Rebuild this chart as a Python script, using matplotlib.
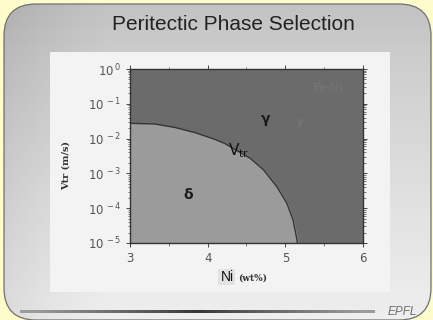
import numpy as np
import matplotlib.pyplot as plt
from matplotlib.patches import FancyBboxPatch, Rectangle

# boundary between delta and gamma regions (Ni wt%, log10 Vtr)
ni_curve = [3.0, 3.32, 3.58, 3.84, 4.09, 4.22, 4.55, 4.72, 4.89, 5.02, 5.10, 5.15, 5.155]
logv_curve = [-1.56, -1.58, -1.68, -1.83, -2.02, -2.14, -2.57, -2.90, -3.38, -3.86,
              -4.34, -4.91, -5.0]

x_ticks = [3, 4, 5, 6]
y_decades = [0, -1, -2, -3, -4, -5]

title = "Peritectic Phase Selection"

W, H = 433, 320
fig = plt.figure(figsize=(W / 100, H / 100), dpi=100)
fig.patch.set_facecolor("#fffccc")

# slide background
bg = fig.add_axes([0, 0, 1, 1])
bg.set_xlim(0, W)
bg.set_ylim(H, 0)
bg.axis("off")

panel = FancyBboxPatch((4, 4), 427, 316, boxstyle="round,pad=0,rounding_size=32",
                       facecolor="none", edgecolor="#707070", lw=0.9, zorder=3)
bg.add_patch(panel)
grad = np.linspace(0, 1, 256).reshape(-1, 1)
img = bg.imshow(grad, extent=(4, 431, 320, 4), cmap="Greys_r",
                vmin=-2.2, vmax=1.6, aspect="auto", zorder=1)
img.set_clip_path(panel)
hgrad = np.linspace(0, 1, 256).reshape(1, -1)
side = bg.imshow(np.clip(hgrad * 4, 0, 1), extent=(4, 431, 320, 4), cmap="Greys_r",
                 vmin=-1.5, vmax=1.0, alpha=0.25, aspect="auto", zorder=1.5)
side.set_clip_path(panel)

bg.add_patch(Rectangle((50, 52), 340, 240, facecolor="#f3f3f3", edgecolor="none", zorder=2))

bg.text(W / 2 + 17, 24, title, ha="center", va="center", fontsize=15,
        color="#222222", family="Liberation Sans", zorder=4)

# bottom rule and logo
rule = 1 - np.clip(1 - np.abs(np.linspace(-1, 1, 256)) * 1.1, 0, 1)
bg.imshow(rule.reshape(1, -1), extent=(20, 375, 313.5, 310.5), cmap="Greys_r",
          vmin=-0.5, vmax=2.4, aspect="auto", zorder=4)
bg.set_xlim(0, W)
bg.set_ylim(H, 0)
bg.text(402, 312, "EPFL", ha="center", va="center", fontsize=8.5, style="italic",
        color="#707070", family="Liberation Sans", zorder=4)

# phase diagram
ax = fig.add_axes([130 / W, 1 - 243 / H, 233 / W, 174 / H])
ax.set_facecolor("#6b6b6b")
ax.set_xlim(3, 6)
ax.set_yscale("log")
ax.set_ylim(1e-5, 1)
vtr = 10.0 ** np.array(logv_curve)
ax.fill_between(ni_curve, vtr, 1e-5, color="#9b9b9b", zorder=1)
ax.plot(ni_curve, vtr, color="#333333", lw=1.0, zorder=2)

ax.set_xticks(x_ticks)
ax.set_xticks([3.5, 4.5, 5.5], minor=True)
ax.set_xticklabels([str(v) for v in x_ticks])
ax.set_yticks([10.0 ** d for d in y_decades])
ax.set_yticklabels([r"$10^{\,%d}$" % d for d in y_decades])
ax.tick_params(axis="both", which="both", direction="out", colors="#444444",
               labelcolor="#555555", labelsize=8.5, top=True, right=True,
               labeltop=False, labelright=False)
ax.tick_params(axis="both", which="major", length=3, width=0.7)
ax.tick_params(axis="both", which="minor", length=1.8, width=0.5)
for s in ax.spines.values():
    s.set_color("#333333")
    s.set_linewidth(1.0)

ax.text(4.74, 10 ** -1.47, r"$\mathbf{\gamma}$", ha="center", va="center",
        fontsize=10, color="#1a1a1a")
ax.text(3.75, 10 ** -3.62, r"$\mathbf{\delta}$", ha="center", va="center",
        fontsize=10, color="#1a1a1a")
ax.text(4.4, 10 ** -2.35, r"$\mathrm{V}_{\mathrm{tr}}$", ha="center", va="center",
        fontsize=11, color="#111111")
ax.text(5.55, 10 ** -0.55, "Fe-Ni", ha="center", va="center", fontsize=8,
        color="#777777", family="DejaVu Serif")
ax.text(5.2, 10 ** -1.55, r"$\gamma$", ha="center", va="center", fontsize=8,
        color="#7a7a7a")

# axis labels
bg.text(66, 165, "Vtr (m/s)", rotation=90, ha="center", va="center", fontsize=7,
        fontweight="bold", family="DejaVu Serif", color="#333333", zorder=4)
bg.add_patch(Rectangle((218, 269), 17, 16, facecolor="#e2e2e2", edgecolor="none", zorder=3))
bg.text(227, 277, "Ni", ha="center", va="center", fontsize=10,
        family="Liberation Sans", color="#111111", zorder=4)
bg.text(238, 278, "(wt%)", ha="left", va="center", fontsize=6.5, fontweight="bold",
        family="DejaVu Serif", color="#333333", zorder=4)

fig.savefig("out.png", dpi=100)
